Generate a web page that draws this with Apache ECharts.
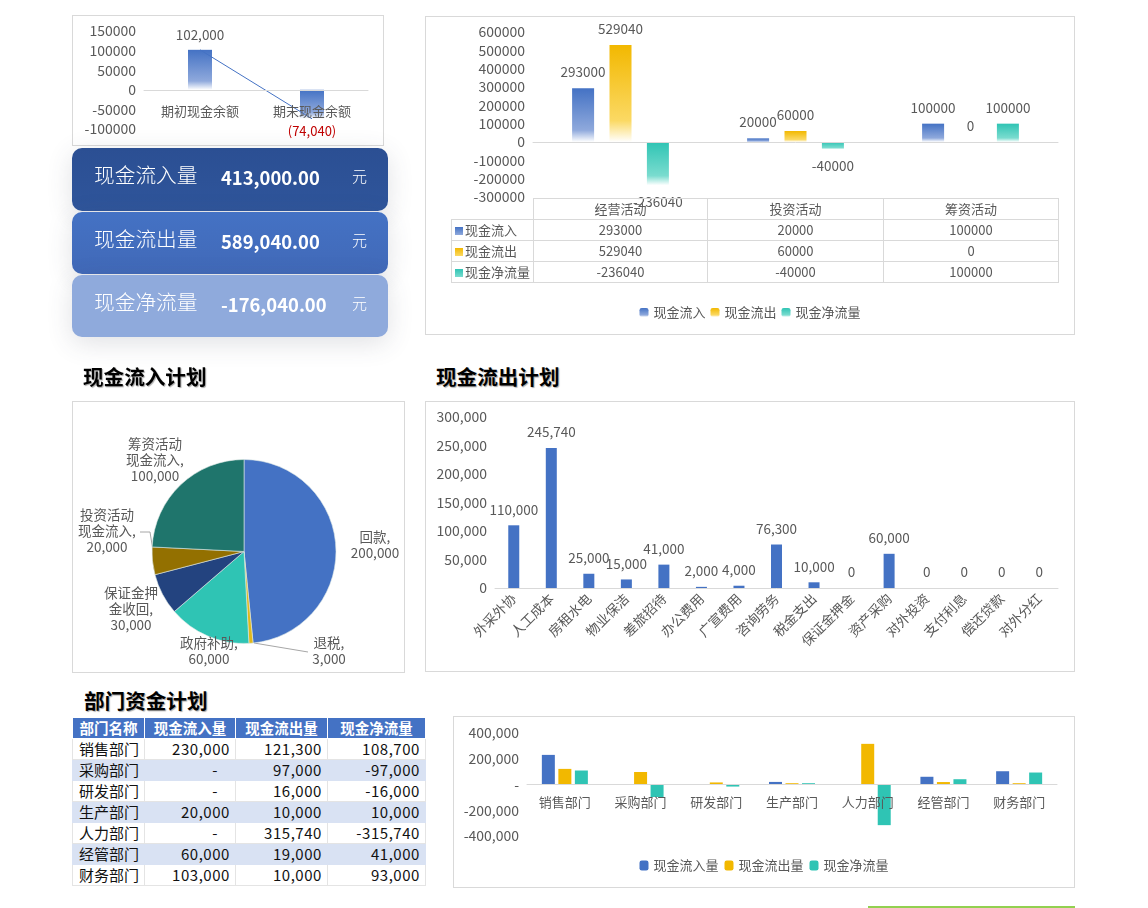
<!DOCTYPE html>
<html>
<head>
<meta charset="utf-8">
<title>现金流计划</title>
<script src="https://cdn.jsdelivr.net/npm/echarts@6/dist/echarts.min.js"></script>
<style>
html, body { margin: 0; padding: 0; width: 1148px; height: 908px; overflow: hidden; background: #fff; font-family: "Noto Sans CJK SC", "Noto Sans", sans-serif; }
.box { position: absolute; outline: 1px solid #d9d9d9; outline-offset: -1px; }
.card { position: absolute; left: 72px; width: 316px; border-radius: 10px; color: #fff; box-shadow: 0 6px 26px rgba(60,70,90,.16); }
.card span { position: absolute; white-space: nowrap; line-height: 30px; }
.card .name { left: 22px; top: 11px; font-size: 20.7px; font-weight: 300; }
.card .val { left: 149px; top: 14px; font-size: 18.4px; font-weight: 700; }
.card .unit { left: 280px; top: 13px; font-size: 15px; font-weight: 300; }
.title { position: absolute; font-size: 20.6px; font-weight: 700; color: #000; line-height: 26px; text-shadow: 1px 1px 1px rgba(0,0,0,.35); }
table { position: absolute; border-collapse: collapse; table-layout: fixed; }
#flowTable { left: 451px; top: 198px; width: 607px; font-size: 13px; color: #595959; }
#flowTable td { border: 1px solid #d9d9d9; height: 20px; padding: 0; text-align: center; line-height: 20px; }
#flowTable td.blank { border: 0; }
#flowTable td.key { text-align: left; padding-left: 3px; white-space: nowrap; overflow: hidden; }
#flowTable i { display: inline-block; width: 8px; height: 8px; margin-right: 2px; vertical-align: 0; }
#deptTable { left: 72px; top: 717px; width: 353px; font-size: 15px; color: #111; }
#deptTable td, #deptTable th { border: 1px solid #e4e4e4; height: 20px; padding: 0; line-height: 20px; white-space: nowrap; }
#deptTable th { background: #4472c4; color: #fff; font-size: 14.5px; font-weight: 700; border-color: #fff; }
#deptTable td { text-align: right; padding-right: 5px; letter-spacing: .55px; }
#deptTable td.n { text-align: left; padding: 0 0 0 6px; letter-spacing: 0; }
#deptTable td.dash { padding-right: 17px; }
#deptTable tr.alt td { background: #d9e2f3; border-color: #d9e2f3; }
#greenLine { position: absolute; left: 868px; top: 906px; width: 207px; height: 2px; background: #92d050; }
</style>
</head>
<body>
<div id="balance" class="box" style="left:72px;top:15px;width:312px;height:131px"></div>
<div id="cards"></div>
<div id="flow" class="box" style="left:425px;top:16px;width:650px;height:319px"></div>
<div class="title" style="left:83px;top:363px">现金流入计划</div>
<div class="title" style="left:436px;top:363px">现金流出计划</div>
<div id="inflow" class="box" style="left:72px;top:401px;width:333px;height:272px"></div>
<div id="outflow" class="box" style="left:425px;top:401px;width:650px;height:271px"></div>
<div class="title" style="left:84px;top:687px">部门资金计划</div>
<div id="dept" class="box" style="left:453px;top:716px;width:622px;height:172px"></div>
<div id="greenLine"></div>
<script>
// 期初/期末现金余额
const balanceCats = ['期初现金余额', '期末现金余额'];
const balanceVals = [102000, -74040];

// 汇总卡片
const cardNames = ['现金流入量', '现金流出量', '现金净流量'];
const cardVals = ['413,000.00', '589,040.00', '-176,040.00'];

// 三大活动现金流
const flowCats = ['经营活动', '投资活动', '筹资活动'];
const flowNames = ['现金流入', '现金流出', '现金净流量'];
const flowIn = [293000, 20000, 100000];
const flowOut = [529040, 60000, 0];
const flowNet = [-236040, -40000, 100000];

// 现金流入计划
const inflowNames = ['回款', '退税', '政府补助', '保证金押\n金收回', '投资活动\n现金流入', '筹资活动\n现金流入'];
const inflowVals = [200000, 3000, 60000, 30000, 20000, 100000];

// 现金流出计划
const outflowCats = ['外采外协', '人工成本', '房租水电', '物业保洁', '差旅招待', '办公费用', '广宣费用', '咨询劳务', '税金支出', '保证金押金', '资产采购', '对外投资', '支付利息', '偿还贷款', '对外分红'];
const outflowVals = [110000, 245740, 25000, 15000, 41000, 2000, 4000, 76300, 10000, 0, 60000, 0, 0, 0, 0];

// 部门资金计划
const deptNames = ['销售部门', '采购部门', '研发部门', '生产部门', '人力部门', '经管部门', '财务部门'];
const deptIn = [230000, 0, 0, 20000, 0, 60000, 103000];
const deptOut = [121300, 97000, 16000, 10000, 315740, 19000, 10000];
const deptNet = [108700, -97000, -16000, 10000, -315740, 41000, 93000];

const FONT = '"Noto Sans CJK SC", "Noto Sans", sans-serif';
const TXT = '#595959';
const BLUE = '#4472c4', GOLD = '#f2b800', TEAL = '#2fc4b4';
const fmt = v => Number(v).toLocaleString('en-US');
const plain = v => String(v);

// 竖向渐变,底部淡出成白色
function fade(c1, c2) {
    return new echarts.graphic.LinearGradient(0, 0, 0, 1, [
        { offset: 0, color: c1 },
        { offset: 0.78, color: c2 },
        { offset: 1, color: '#ffffff' }
    ]);
}
const fadeBlue = fade(BLUE, '#8fa9dc');
const fadeGold = fade(GOLD, '#fbd964');
const fadeTeal = fade(TEAL, '#7adccf');

function valueAxis(min, max, interval, fn) {
    return {
        type: 'value', min: min, max: max, interval: interval,
        axisLine: { show: false }, axisTick: { show: false }, splitLine: { show: false },
        axisLabel: { color: TXT, fontSize: 14, fontFamily: FONT, margin: 8, formatter: fn }
    };
}
function catAxis(data, extra) {
    return {
        type: 'category', data: data, z: 5,
        axisLine: { onZero: true, lineStyle: { color: '#d9d9d9' } }, axisTick: { show: false },
        axisLabel: Object.assign({ color: TXT, fontSize: 13.5, fontFamily: FONT, interval: 0 }, extra)
    };
}

// 卡片
const cardBg = ['linear-gradient(#2b4f93,#2f559b)', 'linear-gradient(#4472c4,#4169b8)', '#8faadc'];
const cardTop = [148, 212, 275];
document.getElementById('cards').innerHTML = cardNames.map((n, i) =>
    '<div class="card" style="top:' + cardTop[i] + 'px;height:' + (i == 0 ? 63 : 62) + 'px;background:' + cardBg[i] + '">' +
    '<span class="name">' + n + '</span><span class="val">' + cardVals[i] + '</span><span class="unit">元</span></div>'
).join('');

// 图表内嵌数据表
(function () {
    const rows = [flowIn, flowOut, flowNet];
    const keys = ['linear-gradient(#4472c4,#8fa9dc)', 'linear-gradient(#f2b800,#fbd964)', 'linear-gradient(#2fc4b4,#7adccf)'];
    let html = '<colgroup><col style="width:82px"><col style="width:174px"><col style="width:176px"><col style="width:175px"></colgroup>';
    html += '<tr><td class="blank"></td>' + flowCats.map(c => '<td>' + c + '</td>').join('') + '</tr>';
    rows.forEach((r, i) => {
        html += '<tr><td class="key"><i style="background:' + keys[i] + '"></i>' + flowNames[i] + '</td>' +
            r.map(v => '<td>' + v + '</td>').join('') + '</tr>';
    });
    const t = document.createElement('table');
    t.id = 'flowTable';
    t.innerHTML = html;
    document.body.appendChild(t);
})();

// 部门资金表
(function () {
    const heads = ['部门名称', '现金流入量', '现金流出量', '现金净流量'];
    const cell = v => v === 0 ? '<td class="dash">-</td>' : '<td>' + fmt(v) + '</td>';
    let html = '<colgroup><col style="width:72px"><col style="width:91px"><col style="width:92px"><col style="width:98px"></colgroup>';
    html += '<tr>' + heads.map(h => '<th>' + h + '</th>').join('') + '</tr>';
    deptNames.forEach((n, i) => {
        html += '<tr class="' + (i % 2 ? 'alt' : '') + '"><td class="n">' + n + '</td>' + cell(deptIn[i]) + cell(deptOut[i]) + cell(deptNet[i]) + '</tr>';
    });
    const t = document.createElement('table');
    t.id = 'deptTable';
    t.innerHTML = html;
    document.body.appendChild(t);
})();

// 期初期末余额,类目标签贴着零轴,所以 margin 为负
echarts.init(document.getElementById('balance')).setOption({
    animation: false,
    textStyle: { fontFamily: FONT },
    grid: { left: 72, top: 16, width: 224, height: 98, outerBoundsMode: 'none' },
    xAxis: catAxis(balanceCats, { margin: -24, fontSize: 13 }),
    yAxis: valueAxis(-100000, 150000, 50000, plain),
    series: [
        { type: 'bar', data: balanceVals, barWidth: 24, itemStyle: { color: fadeBlue } },
        {
            type: 'line', symbol: 'circle', symbolSize: 1,
            itemStyle: { color: 'transparent' },
            lineStyle: { color: BLUE, width: 1 },
            label: {
                show: true, position: 'top', distance: 8, color: TXT, fontSize: 13.5,
                formatter: p => fmt(p.value)
            },
            labelLayout: { hideOverlap: false },
            data: balanceVals.map(v => v < 0 ? {
                value: v,
                label: { position: 'bottom', distance: 5, color: '#c00000', fontSize: 13, formatter: p => '(' + fmt(-p.value) + ')' }
            } : v)
        }
    ]
});

// 三大活动
function flowSeries(name, vals, color) {
    return {
        name: name, type: 'bar', barWidth: 22, barGap: '70%',
        itemStyle: { color: color },
        label: { show: true, position: 'top', distance: 9.5, color: TXT, fontSize: 13.5 },
        labelLayout: { hideOverlap: false },
        data: vals.map(v => v < 0 ? { value: v, label: { position: 'bottom', distance: 10 } } : v)
    };
}
echarts.init(document.getElementById('flow')).setOption({
    animation: false,
    textStyle: { fontFamily: FONT },
    grid: { left: 108, top: 16, width: 525, height: 165, outerBoundsMode: 'none' },
    legend: {
        data: flowNames, left: 'center', top: 285, itemWidth: 9, itemHeight: 9, itemGap: 5,
        textStyle: { color: TXT, fontSize: 13, fontFamily: FONT }
    },
    xAxis: Object.assign(catAxis(flowCats), { axisLabel: { show: false } }),
    yAxis: valueAxis(-300000, 600000, 100000, plain),
    series: [
        flowSeries(flowNames[0], flowIn, fadeBlue),
        flowSeries(flowNames[1], flowOut, fadeGold),
        flowSeries(flowNames[2], flowNet, fadeTeal)
    ]
});

// 现金流入计划,标签位置按原图摆放
const pieLabelAt = [[303, 144], [257, 250], [137, 250], [59, 208], [35, 130], [83, 59]];
const pieLines = { 1: [[236, 251], [182, 242]], 4: [[68, 131], [78, 131], [83, 162]] };
echarts.init(document.getElementById('inflow')).setOption({
    animation: false,
    textStyle: { fontFamily: FONT },
    color: [BLUE, '#e0b81c', TEAL, '#23437f', '#937000', '#1f756c'],
    series: [{
        type: 'pie', center: [172, 150.5], radius: 92, startAngle: 90, clockwise: true,
        itemStyle: { borderColor: '#dfe9e6', borderWidth: 0.6 },
        label: {
            show: true, color: TXT, fontSize: 13.5, lineHeight: 16, align: 'center', overflow: 'none',
            formatter: p => p.name + ',\n' + fmt(p.value)
        },
        labelLine: { show: true, lineStyle: { color: '#a6a6a6', width: 1 } },
        labelLayout: p => {
            const at = pieLabelAt[p.dataIndex];
            const res = { x: at[0], y: at[1], align: 'center', verticalAlign: 'middle', hideOverlap: false };
            if (pieLines[p.dataIndex]) res.labelLinePoints = pieLines[p.dataIndex];
            return res;
        },
        data: inflowVals.map((v, i) => ({
            name: inflowNames[i], value: v,
            labelLine: { show: !!pieLines[i] }
        }))
    }]
});

// 现金流出计划
echarts.init(document.getElementById('outflow')).setOption({
    animation: false,
    textStyle: { fontFamily: FONT },
    grid: { left: 70, top: 16, width: 563, height: 171, outerBoundsMode: 'none' },
    xAxis: catAxis(outflowCats, { rotate: 45, margin: 8 }),
    yAxis: valueAxis(0, 300000, 50000, v => fmt(v)),
    series: [{
        type: 'bar', data: outflowVals, barWidth: 11, itemStyle: { color: BLUE },
        label: { show: true, position: 'top', distance: 9, color: TXT, fontSize: 13.5, formatter: p => fmt(p.value) },
        labelLayout: { hideOverlap: false }
    }]
});

// 部门资金
function deptSeries(name, vals, color) {
    return { name: name, type: 'bar', data: vals, barWidth: 13, barGap: '27%', itemStyle: { color: color } };
}
echarts.init(document.getElementById('dept')).setOption({
    animation: false,
    textStyle: { fontFamily: FONT },
    grid: { left: 74, top: 17, width: 530, height: 103, outerBoundsMode: 'none' },
    legend: {
        data: ['现金流入量', '现金流出量', '现金净流量'], left: 'center', top: 138, itemWidth: 9, itemHeight: 10, itemGap: 6,
        textStyle: { color: TXT, fontSize: 13, fontFamily: FONT }
    },
    xAxis: catAxis(deptNames, { margin: -40, fontSize: 13 }),
    yAxis: valueAxis(-400000, 400000, 200000, v => v === 0 ? '-' : fmt(v)),
    series: [
        deptSeries('现金流入量', deptIn, BLUE),
        deptSeries('现金流出量', deptOut, GOLD),
        deptSeries('现金净流量', deptNet, TEAL)
    ]
});
</script>
</body>
</html>
